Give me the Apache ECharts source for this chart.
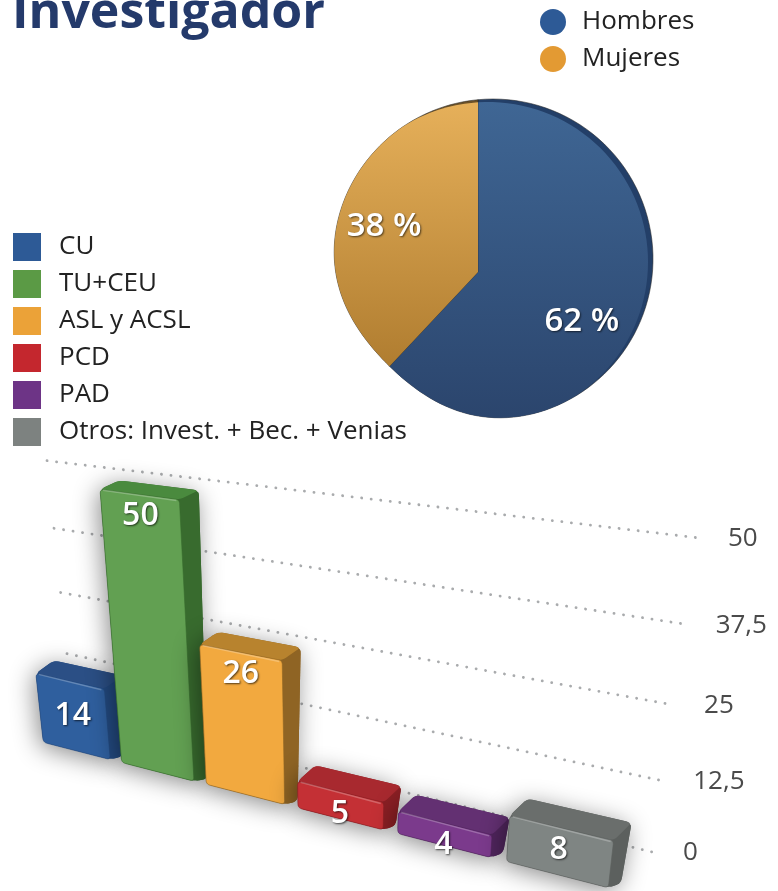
<!DOCTYPE html>
<html><head><meta charset="utf-8">
<style>html,body{margin:0;padding:0;background:#fff}#c{width:778px;height:891px}</style>
<script src="https://cdn.jsdelivr.net/npm/echarts@6/dist/echarts.min.js"></script>
</head><body><div id="c"></div>
<script>
// ---- data ----
const titleText = 'Investigador';
const pieNames = ['Hombres', 'Mujeres'];
const pieValues = [62, 38];
const barNames = ['CU', 'TU+CEU', 'ASL y ACSL', 'PCD', 'PAD', 'Otros: Invest. + Bec. + Venias'];
const barValues = [14, 50, 26, 5, 4, 8];
const tickValues = [0, 12.5, 25, 37.5, 50];
const tickLabels = ['0', '12,5', '25', '37,5', '50'];

// ---- styling ----
const FONT = '"Open Sans"';
const barFront = ['#2f5f9e', '#62a052', '#f2a93f', '#c43035', '#7b3a8c', '#7f8583'];
const barTop   = ['#2b4f85', '#4a8a3e', '#b8832e', '#a8292f', '#633072', '#6a6e6c'];
const barSide  = ['#234a80', '#386b2e', '#8f6424', '#8a1f24', '#50255d', '#5c605e'];
const barKey   = ['#2d5a96', '#5b9a45', '#eba238', '#c4272e', '#6d3486', '#7d8280'];
const pieKey   = ['#2d5a96', '#e39a33'];
const pieGrad  = [['#3f6694', '#2b456d'], ['#e6b05a', '#b07d30']];

// ---- perspective planes (unit square -> picture) ----
function homography(p0, p1, p2, p3) {
  const dx1 = p1[0]-p2[0], dx2 = p3[0]-p2[0], sx = p0[0]-p1[0]+p2[0]-p3[0];
  const dy1 = p1[1]-p2[1], dy2 = p3[1]-p2[1], sy = p0[1]-p1[1]+p2[1]-p3[1];
  const den = dx1*dy2-dx2*dy1;
  const g = (sx*dy2-dx2*sy)/den, h = (dx1*sy-sx*dy1)/den;
  const a = p1[0]-p0[0]+g*p1[0], b = p3[0]-p0[0]+h*p3[0], c = p0[0];
  const d = p1[1]-p0[1]+g*p1[1], e = p3[1]-p0[1]+h*p3[1], f = p0[1];
  return (u, v) => { const w = g*u+h*v+1; return [(a*u+b*v+c)/w, (d*u+e*v+f)/w]; };
}
const wall  = homography([73,712], [652,852], [697,537.7], [47,460.7]);
const front = homography([38,741], [617,890], [655,561], [9,477.6]);
const DEPTH = 0.5;
function back(u, v) {
  const a = front(u, v), b = wall(u, v);
  return [a[0]+DEPTH*(b[0]-a[0]), a[1]+DEPTH*(b[1]-a[1])];
}
function roundPoly(pts, r) {
  const out = [], n = pts.length;
  for (let i = 0; i < n; i++) {
    const p = pts[i], a = pts[(i+n-1)%n], b = pts[(i+1)%n];
    const la = Math.hypot(a[0]-p[0], a[1]-p[1]), lb = Math.hypot(b[0]-p[0], b[1]-p[1]);
    const ra = Math.min(r, la/2), rb = Math.min(r, lb/2);
    const s = [p[0]+(a[0]-p[0])*ra/la, p[1]+(a[1]-p[1])*ra/la];
    const e = [p[0]+(b[0]-p[0])*rb/lb, p[1]+(b[1]-p[1])*rb/lb];
    for (let k = 0; k <= 5; k++) {
      const t = k/5, m = 1-t;
      out.push([m*m*s[0]+2*m*t*p[0]+t*t*e[0], m*m*s[1]+2*m*t*p[1]+t*t*e[1]]);
    }
  }
  return out;
}
function unit(params, api, cat, val) {
  const cs = params.coordSys, pt = api.coord([cat, val]);
  return [(pt[0]-cs.x)/cs.width, (cs.y+cs.height-pt[1])/cs.height];
}

// ---- bars ----
function renderBar(params, api) {
  const i = api.value(0), val = api.value(1), cs = params.coordSys;
  const c = unit(params, api, i, val), z = unit(params, api, i, 0);
  const half = api.size([1, 0])[0]/cs.width/2*0.86;
  const t = c[1], b = z[1], l = c[0]-half, r = c[0]+half;
  const FTL = front(l,t), FTR = front(r,t), FBR = front(r,b), FBL = front(l,b);
  const BTL = back(l,t), BTR = back(r,t);
  const dx = BTR[0]-FTR[0], dy = BTR[1]-FTR[1];
  const SBR = [FBR[0]+dx*0.7, FBR[1]+dy*0.25];
  const whole = roundPoly([FTL, BTL, BTR, SBR, FBR, FBL], 6);
  const ftc = front(c[0], t), fbc = front(c[0], b), h = fbc[1]-ftc[1];
  const off = (h > 50 && h < 100) ? h/2 : 22;
  const mk = (pts, style) => ({type:'polygon', shape:{points:pts}, style});
  return {type:'group', children:[
    mk(whole, {fill:barSide[i], shadowBlur:24, shadowColor:'rgba(0,0,0,0.45)', shadowOffsetX:-3, shadowOffsetY:4}),
    mk(roundPoly([FTR, BTR, SBR, FBR], 5), {fill:barSide[i]}),
    mk(roundPoly([FTL, BTL, BTR, FTR], 5), {fill:barTop[i]}),
    mk(roundPoly([FTL, FTR, FBR, FBL], 4), {fill:barFront[i], stroke:barSide[i], lineWidth:0.6}),
    {type:'polyline', shape:{points:[[FTL[0]+3,FTL[1]+1],[FTR[0]-3,FTR[1]+1]]},
      style:{stroke:'rgba(255,255,255,0.25)', lineWidth:1.5, fill:null}},
    {type:'text', z2:5, style:{
      x:ftc[0]+(fbc[0]-ftc[0])*(off/h), y:ftc[1]+off,
      text:String(val), align:'center', verticalAlign:'middle',
      font:'600 32px '+FONT, fill:'#fff',
      textShadowColor:'rgba(0,0,0,0.65)', textShadowBlur:2, textShadowOffsetX:1, textShadowOffsetY:1}}
  ]};
}

// ---- gridlines and their tick labels ----
function renderGridline(params, api) {
  const val = api.value(1), idx = params.dataIndex;
  const t = unit(params, api, 0, val)[1];
  const a = wall(0, t), b = wall(1, t);
  return {type:'group', children:[
    {type:'line', shape:{x1:a[0], y1:a[1], x2:b[0], y2:b[1]},
      style:{stroke:'#a9abad', lineWidth:2.8, lineCap:'round', lineDash:[0.1, 9.5], fill:null}},
    {type:'text', style:{x:b[0]+31, y:b[1]+1, text:tickLabels[idx], align:'left', verticalAlign:'middle',
      font:'400 26px '+FONT, fill:'#4a4a4a'}}
  ]};
}

// ---- pie in perspective: true angles at an off-centre apex ----
const APEX = [478, 272], DISC = [493, 259], DISC_R = 160, RIM = [-5, 3], LABEL_TURN = 4;
function outlineR(px, py, cx, cy) {
  const th = Math.atan2(py-cy, px-cx);
  const k = Math.max(0, Math.cos(th-Math.PI*0.75));
  return DISC_R - 11*Math.pow(k, 6);
}
function rayLen(dir, cx, cy) {
  let lo = 0, hi = 400;
  for (let n = 0; n < 30; n++) {
    const m = (lo+hi)/2, x = APEX[0]+dir[0]*m, y = APEX[1]+dir[1]*m;
    if (Math.hypot(x-cx, y-cy) < outlineR(x, y, cx, cy)) lo = m; else hi = m;
  }
  return lo;
}
function wedge(a0, a1, faceOnly) {
  const pts = [APEX.slice()], steps = 90;
  for (let s = 0; s <= steps; s++) {
    const a = (a0+(a1-a0)*s/steps)/180*Math.PI, d = [Math.sin(a), -Math.cos(a)];
    let len = rayLen(d, DISC[0], DISC[1]);
    if (faceOnly) len = Math.min(len, rayLen(d, DISC[0]+RIM[0], DISC[1]+RIM[1]));
    pts.push([APEX[0]+d[0]*len, APEX[1]+d[1]*len]);
  }
  return pts;
}
const pieTotal = pieValues.reduce((s, v) => s+v, 0);
function renderSlice(params, api) {
  const i = api.value(0);
  let a0 = 0;
  for (let k = 0; k < i; k++) a0 += pieValues[k]/pieTotal*360;
  const a1 = a0+api.value(1)/pieTotal*360, mid = ((a0+a1)/2+LABEL_TURN)/180*Math.PI;
  const d = [Math.sin(mid), -Math.cos(mid)], r = rayLen(d, DISC[0], DISC[1])*0.69;
  const grad = {type:'linear', x:0, y:0, x2:0, y2:1, colorStops:[
    {offset:0, color:pieGrad[i][0]}, {offset:1, color:pieGrad[i][1]}]};
  return {type:'group', children:[
    {type:'polygon', shape:{points:wedge(a0, a1, false)}, style:{fill:i===0?'#233f68':'#6b5128', stroke:'rgba(40,40,40,0.55)', lineWidth:1}},
    {type:'polygon', shape:{points:wedge(a0, a1, true)}, style:{fill:grad}},
    {type:'text', z2:5, style:{x:APEX[0]+d[0]*r, y:APEX[1]+d[1]*r, text:api.value(1)+' %', align:'center', verticalAlign:'middle',
      font:'600 33px '+FONT, fill:'#fff', textShadowColor:'rgba(0,0,0,0.6)', textShadowBlur:2, textShadowOffsetX:1, textShadowOffsetY:1}}
  ]};
}

const series = [
  {type:'custom', name:'grid', coordinateSystem:'cartesian2d', silent:true, z:1,
   data:tickValues.map(v => [0, v]), renderItem:renderGridline, encode:{x:0, y:1}},
];
barNames.forEach((n, i) => series.push({type:'custom', name:n, coordinateSystem:'cartesian2d', z:2+i,
  itemStyle:{color:barKey[i]}, data:[[i, barValues[i]]], renderItem:renderBar, encode:{x:0, y:1}}));
pieNames.forEach((n, i) => series.push({type:'custom', name:n, coordinateSystem:'none', z:10,
  itemStyle:{color:pieKey[i]}, data:[[i, pieValues[i]]], renderItem:renderSlice}));

const chart = echarts.init(document.getElementById('c'), null, {renderer:'canvas', width:778, height:891});
chart.setOption({
  animation:false,
  backgroundColor:'#fff',
  textStyle:{fontFamily:FONT},
  title:{text:titleText, left:12, top:-11, padding:0, textStyle:{fontFamily:FONT, fontWeight:700, fontSize:50, color:'#243a6b'}},
  grid:{left:0, right:0, top:0, bottom:0},
  xAxis:{type:'category', data:barNames, show:false},
  yAxis:{type:'value', min:0, max:50, interval:12.5, show:false},
  legend:[
    {data:pieNames, icon:'circle', orient:'vertical', left:540, top:9, padding:0, itemWidth:26, itemHeight:26, itemGap:11,
     selectedMode:false, textStyle:{fontFamily:FONT, fontSize:26, color:'#222', padding:[0,0,0,11]}},
    {data:barNames, icon:'rect', orient:'vertical', left:13, top:233, padding:0, itemWidth:28, itemHeight:28, itemGap:9,
     selectedMode:false, textStyle:{fontFamily:FONT, fontSize:26, color:'#222', padding:[0,0,0,13]}}
  ],
  series
});
</script></body></html>
